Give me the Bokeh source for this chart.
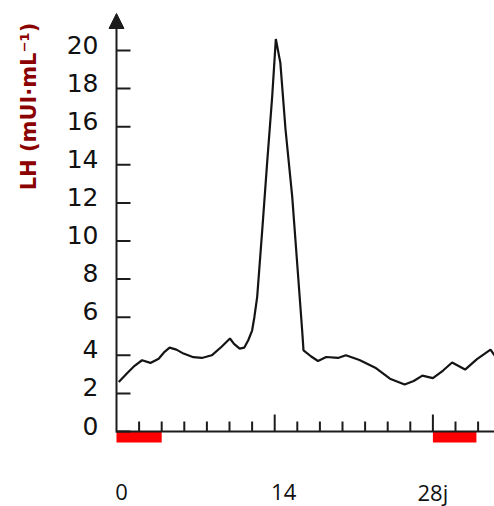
import math
from bokeh.plotting import figure
from bokeh.models import Range1d, Arrow, NormalHead
from bokeh.core.properties import value
from bokeh.embed import file_html
from bokeh.resources import INLINE

# ---- data ----
days = [0.2, 1.0, 1.6, 2.26, 3.0, 3.73, 4.2, 4.7, 5.3, 5.93, 6.8, 7.55, 8.43, 9.3,
        10.04, 10.4, 10.9, 11.3, 11.66, 12.0, 12.2, 12.45, 12.9, 13.33, 13.78, 14.1,
        14.5, 14.96, 15.55, 15.99, 16.43, 16.55, 17.2, 17.83, 18.56, 19.6, 20.3, 21.5,
        22.9, 24.2, 25.5, 26.3, 27.07, 28.0, 28.9, 29.7, 30.85, 31.9, 33.1, 33.45]
lh = [2.6, 3.1, 3.45, 3.74, 3.6, 3.82, 4.15, 4.4, 4.3, 4.09, 3.9, 3.86, 4.0, 4.45,
      4.88, 4.6, 4.35, 4.4, 4.79, 5.3, 6.0, 7.07, 10.6, 14.1, 17.6, 20.6,
      19.35, 15.84, 12.33, 8.82, 5.3, 4.26, 3.95, 3.7, 3.91, 3.86, 4.0, 3.75,
      3.35, 2.77, 2.47, 2.65, 2.93, 2.8, 3.2, 3.62, 3.25, 3.8, 4.3, 4.0]

y_ticks = [0, 2, 4, 6, 8, 10, 12, 14, 16, 18, 20]
y_tick_labels = [str(v) for v in y_ticks]
x_minor_ticks = [2, 4, 6, 8, 10, 12, 16, 18, 20, 22, 24, 26, 30, 32]
x_major_ticks = [14, 28]
x_label_days = [0, 14, 28]
x_labels = ["0", "14", "28j"]
x_label_shift_px = [5, 9, 0]
menses_start = [0, 28]
menses_end = [4, 31.85]
y_title = "LH (mUI\u00b7mL\u207b\u00b9)"

# ---- geometry ----
PX_PER_DAY = 11.3
PX_PER_UNIT = 19.05
W, H = 494, 506
ORIGIN_X, ORIGIN_Y = 116, 431   # canvas px of (day 0, LH 0) from top-left

def dx(px):
    return px / PX_PER_DAY

def dy(px):
    return px / PX_PER_UNIT

x_start = -dx(ORIGIN_X)
x_end = x_start + dx(W)
y_end = dy(ORIGIN_Y)
y_start = y_end - dy(H)

p = figure(width=W, height=H, output_backend="svg", toolbar_location=None,
           x_range=Range1d(x_start, x_end), y_range=Range1d(y_start, y_end),
           x_axis_location=None, y_axis_location=None,
           min_border=0, min_border_left=0, min_border_right=0,
           min_border_top=0, min_border_bottom=0)
p.outline_line_color = None
p.xgrid.visible = False
p.ygrid.visible = False
p.background_fill_color = "white"
p.border_fill_color = "white"

AX = "#1c1c1c"

# red menstruation bars
p.quad(left=menses_start, right=menses_end, bottom=-dy(11), top=0,
       fill_color="#ff0000", line_color=None)

# x axis line
p.segment(x0=[0], y0=[0], x1=[x_end], y1=[0], line_color=AX, line_width=2)

# x ticks
p.segment(x0=x_minor_ticks, y0=[0] * len(x_minor_ticks), x1=x_minor_ticks,
          y1=[dy(10)] * len(x_minor_ticks), line_color=AX, line_width=2)
p.segment(x0=x_major_ticks, y0=[0] * len(x_major_ticks), x1=x_major_ticks,
          y1=[dy(17)] * len(x_major_ticks), line_color=AX, line_width=2)

# y ticks
p.segment(x0=[0] * len(y_ticks), y0=y_ticks, x1=[dx(14)] * len(y_ticks),
          y1=y_ticks, line_color=AX, line_width=2)

# y axis with arrow
p.add_layout(Arrow(x_start=0, y_start=-dy(1), x_end=0, y_end=dy(418),
                   line_color=AX, line_width=2,
                   end=NormalHead(size=15, fill_color=AX, line_color=AX)))

# curve
p.line(days, lh, line_color="#141414", line_width=2.2)

# y tick labels
p.text(x=[-dx(18)] * len(y_ticks), y=[v + dy(6) for v in y_ticks],
       text=y_tick_labels, text_align="right", text_baseline="middle",
       text_font=value("DejaVu Sans"), text_font_size=value("25px"),
       text_color="#111111")

# x labels
p.text(x=x_label_days, y=[-dy(60)] * len(x_label_days), text=x_labels,
       x_offset=x_label_shift_px, text_align="center", text_baseline="middle",
       text_font=value("Open Sans"), text_font_size=value("22px"),
       text_color="#111111")

# y title
p.text(x=[-dx(88)], y=[dy(325)], text=[y_title], angle=math.pi / 2,
       text_align="center", text_baseline="middle",
       text_font=value("DejaVu Sans"), text_font_size=value("21px"),
       text_font_style="bold", text_color="#8b0000")

open("out.html", "w").write(file_html(p, INLINE))
